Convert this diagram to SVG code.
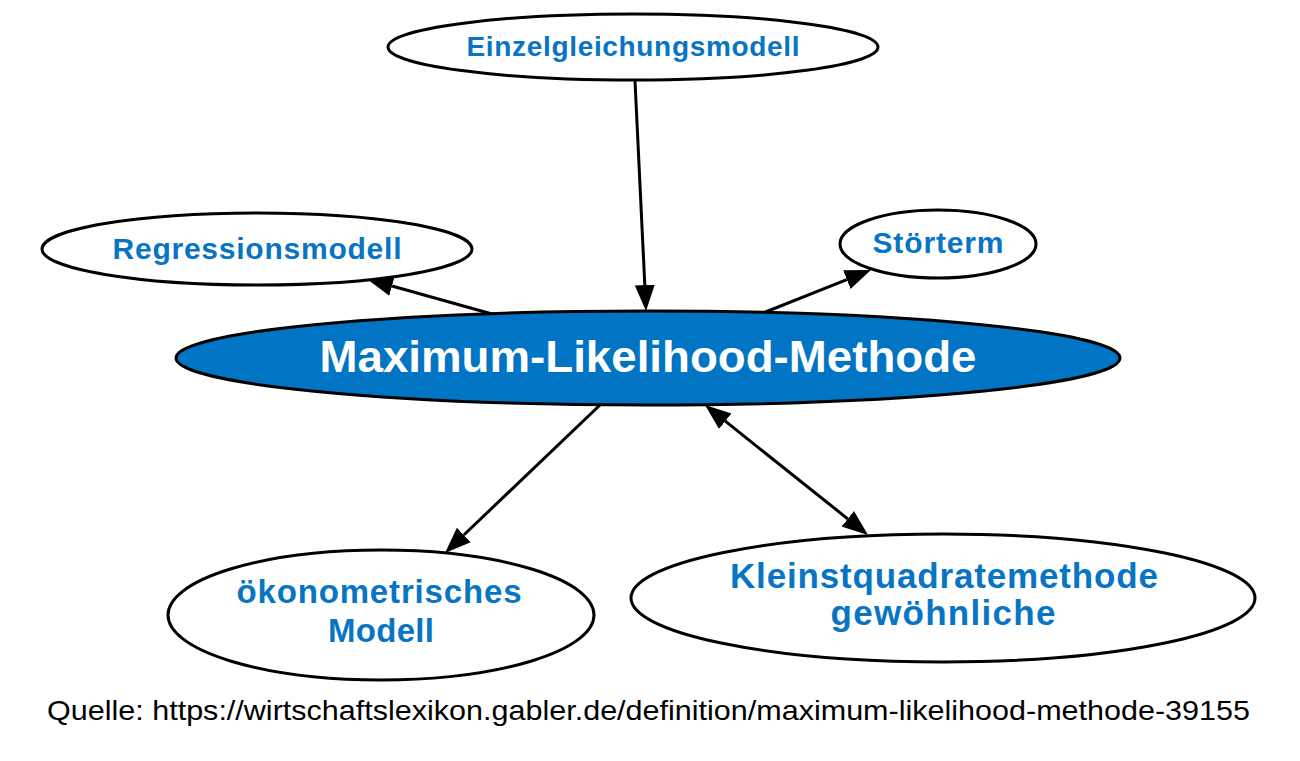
<svg xmlns="http://www.w3.org/2000/svg" width="1300" height="761" viewBox="0 0 1300 761">
<style>
.n{fill:#fff;stroke:#000;stroke-width:3}
.m{fill:#0174c3;stroke:#000;stroke-width:3}
.t{font-family:"Liberation Sans",Arial,sans-serif;font-weight:bold;fill:#0875c4;text-anchor:middle}
.tm{font-family:"Liberation Sans",Arial,sans-serif;font-weight:bold;fill:#fff;text-anchor:middle}
.e{stroke:#000;stroke-width:3;fill:none}
.src{font-family:"Liberation Sans",Arial,sans-serif;fill:#000}
</style>
<defs>
<marker id="ah" markerUnits="userSpaceOnUse" markerWidth="28" markerHeight="22" viewBox="0 0 28 22" refX="0" refY="11" orient="auto-start-reverse">
<path d="M0,1 L26,11 L0,21 z" fill="#000"/>
</marker>
</defs>
<rect width="1300" height="761" fill="#fff"/>
<g id="edges">
<line class="e" x1="635" y1="81" x2="644.8" y2="285" marker-end="url(#ah)"/>
<line class="e" x1="492" y1="314" x2="392" y2="286" marker-end="url(#ah)"/>
<line class="e" x1="763" y1="313" x2="846.8" y2="279.6" marker-end="url(#ah)"/>
<line class="e" x1="600" y1="405" x2="463.8" y2="535" marker-end="url(#ah)"/>
<line class="e" x1="725.3" y1="421.2" x2="847.7" y2="518.8" marker-start="url(#ah)" marker-end="url(#ah)"/>
</g>
<g id="node-main">
<ellipse class="m" cx="648" cy="358" rx="472" ry="47"/>
<text class="tm" x="648" y="372" font-size="45" textLength="657" lengthAdjust="spacingAndGlyphs">Maximum-Likelihood-Methode</text>
</g>
<g id="node-einzel">
<ellipse class="n" cx="633" cy="47" rx="245" ry="33"/>
<text class="t" x="633" y="56" font-size="28" textLength="333" lengthAdjust="spacing">Einzelgleichungsmodell</text>
</g>
<g id="node-regression">
<ellipse class="n" cx="257" cy="249" rx="215" ry="36"/>
<text class="t" x="257" y="259" font-size="30" textLength="289" lengthAdjust="spacing">Regressionsmodell</text>
</g>
<g id="node-stoerterm">
<ellipse class="n" cx="938" cy="244" rx="98" ry="34"/>
<text class="t" x="938" y="253" font-size="30" textLength="131" lengthAdjust="spacing">Störterm</text>
</g>
<g id="node-oekonometrisch">
<ellipse class="n" cx="381" cy="615" rx="213" ry="65"/>
<text class="t" x="379" y="603" font-size="33" textLength="285" lengthAdjust="spacing">ökonometrisches</text>
<text class="t" x="381" y="642" font-size="33" textLength="106" lengthAdjust="spacing">Modell</text>
</g>
<g id="node-kleinst">
<ellipse class="n" cx="943" cy="598" rx="312" ry="64"/>
<text class="t" x="944" y="588" font-size="35" textLength="428" lengthAdjust="spacing">Kleinstquadratemethode</text>
<text class="t" x="943" y="625" font-size="35" textLength="225" lengthAdjust="spacing">gewöhnliche</text>
</g>
<text class="src" x="47" y="720" font-size="28" textLength="1203" lengthAdjust="spacingAndGlyphs">Quelle: https://wirtschaftslexikon.gabler.de/definition/maximum-likelihood-methode-39155</text>
</svg>
